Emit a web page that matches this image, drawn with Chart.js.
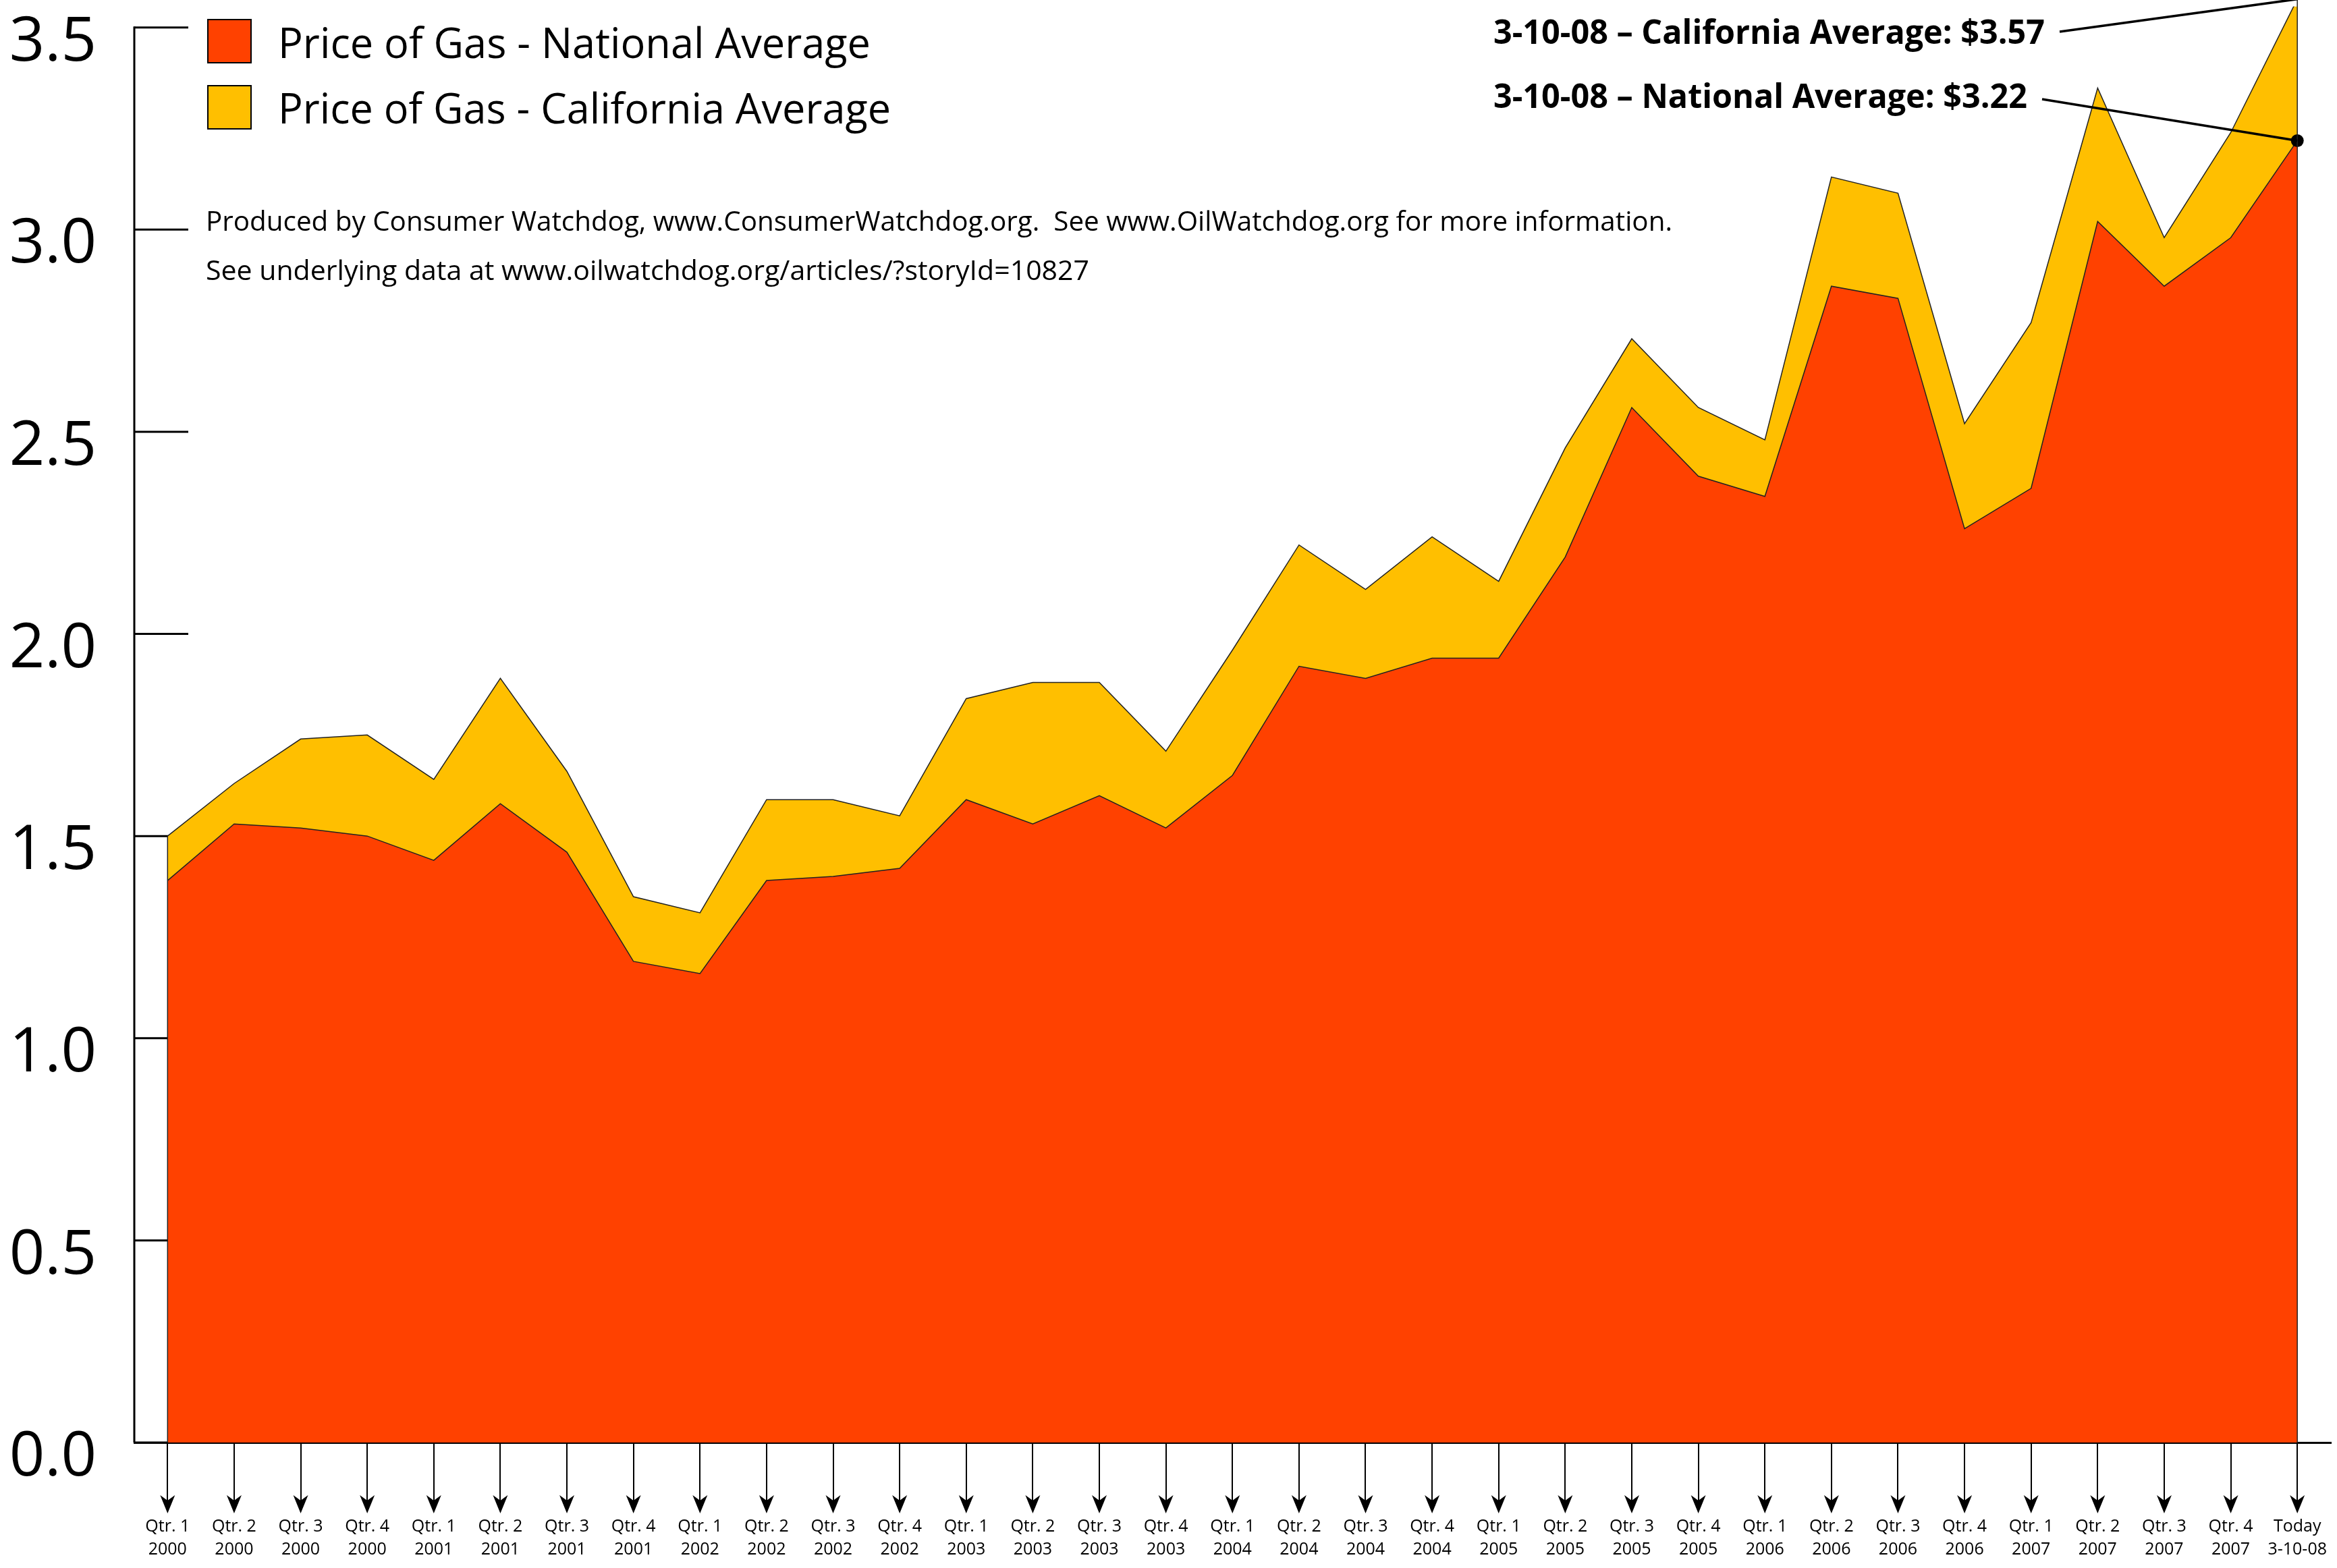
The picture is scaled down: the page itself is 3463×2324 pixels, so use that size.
<!DOCTYPE html>
<html>
<head>
<meta charset="utf-8">
<title>Price of Gas</title>
<script src="https://cdn.jsdelivr.net/npm/chart.js@4/dist/chart.umd.min.js"></script>
<style>
  html, body { margin: 0; padding: 0; background: #fff; }
  canvas { display: block; }
</style>
</head>
<body>
<canvas id="gasChart" width="3463" height="2324"></canvas>
<script>
// quarterly averages, $ per gallon
const quarterLabels = [
    "Qtr. 1", "Qtr. 2", "Qtr. 3", "Qtr. 4",
    "Qtr. 1", "Qtr. 2", "Qtr. 3", "Qtr. 4",
    "Qtr. 1", "Qtr. 2", "Qtr. 3", "Qtr. 4",
    "Qtr. 1", "Qtr. 2", "Qtr. 3", "Qtr. 4",
    "Qtr. 1", "Qtr. 2", "Qtr. 3", "Qtr. 4",
    "Qtr. 1", "Qtr. 2", "Qtr. 3", "Qtr. 4",
    "Qtr. 1", "Qtr. 2", "Qtr. 3", "Qtr. 4",
    "Qtr. 1", "Qtr. 2", "Qtr. 3", "Qtr. 4",
    "Today"
];
const yearLabels = [
    "2000", "2000", "2000", "2000",
    "2001", "2001", "2001", "2001",
    "2002", "2002", "2002", "2002",
    "2003", "2003", "2003", "2003",
    "2004", "2004", "2004", "2004",
    "2005", "2005", "2005", "2005",
    "2006", "2006", "2006", "2006",
    "2007", "2007", "2007", "2007",
    "3-10-08"
];
const nationalAvg = [
    1.39, 1.53, 1.52, 1.50, 1.44, 1.58, 1.46, 1.19,
    1.16, 1.39, 1.40, 1.42, 1.59, 1.53, 1.60, 1.52,
    1.65, 1.92, 1.89, 1.94, 1.94, 2.19, 2.56, 2.39,
    2.34, 2.86, 2.83, 2.26, 2.36, 3.02, 2.86, 2.98,
    3.22
];
const californiaAvg = [
    1.50, 1.63, 1.74, 1.75, 1.64, 1.89, 1.66, 1.35,
    1.31, 1.59, 1.59, 1.55, 1.84, 1.88, 1.88, 1.71,
    1.96, 2.22, 2.11, 2.24, 2.13, 2.46, 2.73, 2.56,
    2.48, 3.13, 3.09, 2.52, 2.77, 3.35, 2.98, 3.24,
    3.57
];
const priceTicks = [0, 0.5, 1.0, 1.5, 2.0, 2.5, 3.0, 3.5];

const seriesNames = ["Price of Gas - National Average", "Price of Gas - California Average"];
const creditLines = [
    "Produced by Consumer Watchdog, www.ConsumerWatchdog.org.  See www.OilWatchdog.org for more information.",
    "See underlying data at www.oilwatchdog.org/articles/?storyId=10827"
];
const calloutCA = "3-10-08 \u2013 California Average: $3.57";
const calloutUS = "3-10-08 \u2013 National Average: $3.22";

const RED = "#ff4100";
const GOLD = "#ffbf00";
const FONT = "'Open Sans', 'Noto Sans', sans-serif";

const labels = quarterLabels.map((q, i) => [q, yearLabels[i]]);
const last = nationalAvg.length - 1;

// the original uses a condensed face, so squeeze text to the measured width
function fitText(ctx, text, x, y, width, font) {
    ctx.font = font;
    const w = ctx.measureText(text).width;
    ctx.save();
    ctx.translate(x, y);
    ctx.scale(width / w, 1);
    ctx.textAlign = "left";
    ctx.textBaseline = "alphabetic";
    ctx.fillText(text, 0, 0);
    ctx.restore();
}

const decor = {
    id: "decor",
    beforeDatasetsDraw(chart) {
        const { ctx, chartArea, scales: { y } } = chart;
        ctx.save();
        ctx.strokeStyle = "#000";
        ctx.lineWidth = 3;
        // axis line stops at the top tick
        ctx.beginPath();
        ctx.moveTo(chartArea.left, y.getPixelForValue(priceTicks[priceTicks.length - 1]) - 1.5);
        ctx.lineTo(chartArea.left, chartArea.bottom);
        ctx.stroke();
        // tick marks point into the plot
        priceTicks.forEach(v => {
            const py = y.getPixelForValue(v);
            ctx.beginPath();
            ctx.moveTo(chartArea.left, py);
            ctx.lineTo(chartArea.left + 80, py);
            ctx.stroke();
        });
        ctx.restore();
    },
    afterDatasetsDraw(chart) {
        const { ctx, chartArea, scales: { x, y } } = chart;
        ctx.save();
        ctx.strokeStyle = "#222";
        ctx.lineWidth = 1.5;
        const x0 = x.getPixelForValue(0);
        const xN = x.getPixelForValue(last);
        ctx.beginPath();
        ctx.moveTo(x0, y.getPixelForValue(californiaAvg[0]));
        ctx.lineTo(x0, chartArea.bottom);
        ctx.moveTo(xN, y.getPixelForValue(californiaAvg[last]));
        ctx.lineTo(xN, chartArea.bottom);
        ctx.stroke();
        ctx.restore();
    },
    afterDraw(chart) {
        const { ctx, scales: { x, y } } = chart;
        ctx.save();

        // arrow heads under each quarter
        ctx.fillStyle = "#000";
        const tip = x.top + 105;
        x.ticks.forEach((t, i) => {
            const px = x.getPixelForTick(i);
            ctx.beginPath();
            ctx.moveTo(px, tip);
            ctx.lineTo(px - 11, tip - 27);
            ctx.lineTo(px, tip - 19);
            ctx.lineTo(px + 11, tip - 27);
            ctx.closePath();
            ctx.fill();
        });

        // legend
        const colors = [RED, GOLD];
        const boxTops = [29, 127];
        const textBase = [86, 183];
        const textWidth = [878, 908];
        seriesNames.forEach((name, i) => {
            ctx.fillStyle = colors[i];
            ctx.fillRect(308, boxTops[i], 64, 64);
            ctx.strokeStyle = "#000";
            ctx.lineWidth = 2;
            ctx.strokeRect(308, boxTops[i], 64, 64);
            ctx.fillStyle = "#000";
            fitText(ctx, name, 412, textBase[i], textWidth[i], `62px ${FONT}`);
        });

        // credits
        fitText(ctx, creditLines[0], 305, 342, 2173, `40px ${FONT}`);
        fitText(ctx, creditLines[1], 305, 415, 1309, `40px ${FONT}`);

        // callouts
        fitText(ctx, calloutCA, 2213, 65, 817, `bold 50px ${FONT}`);
        fitText(ctx, calloutUS, 2213, 160, 791, `bold 50px ${FONT}`);

        ctx.strokeStyle = "#000";
        ctx.lineWidth = 3.5;
        const xN = x.getPixelForValue(last);
        ctx.beginPath();
        ctx.moveTo(3052, 47);
        ctx.lineTo(xN, y.getPixelForValue(californiaAvg[last]));
        ctx.moveTo(3026, 147);
        ctx.lineTo(xN, y.getPixelForValue(nationalAvg[last]));
        ctx.stroke();

        ctx.restore();
    }
};

new Chart(document.getElementById("gasChart"), {
    type: "line",
    data: {
        labels: labels,
        datasets: [
            {
                label: seriesNames[0],
                data: nationalAvg,
                fill: "origin",
                backgroundColor: RED,
                borderColor: "#222",
                borderWidth: 1.5,
                tension: 0,
                pointRadius: nationalAvg.map((v, i) => (i === last ? 9.5 : 0)),
                pointBackgroundColor: "#000",
                pointBorderWidth: 0
            },
            {
                label: seriesNames[1],
                data: californiaAvg,
                fill: "origin",
                backgroundColor: GOLD,
                borderColor: "#222",
                borderWidth: 1.5,
                tension: 0,
                pointRadius: 0
            }
        ]
    },
    options: {
        responsive: false,
        devicePixelRatio: 1,
        animation: false,
        layout: { padding: { left: 0, top: 0, right: 6, bottom: 0 } },
        plugins: {
            legend: { display: false },
            tooltip: { enabled: false }
        },
        scales: {
            x: {
                offset: true,
                afterFit: s => { s.height = 186; s.paddingLeft = 0; s.paddingRight = 0; },
                grid: { drawOnChartArea: false, drawTicks: true, tickLength: 100, color: "#000", lineWidth: 2 },
                border: { display: true, color: "#000", width: 3 },
                ticks: {
                    autoSkip: false,
                    maxRotation: 0,
                    minRotation: 0,
                    padding: 8,
                    color: "#000",
                    font: { family: FONT, size: 25, lineHeight: 1.35 }
                }
            },
            y: {
                min: 0,
                max: 3.552,
                afterBuildTicks: s => { s.ticks = priceTicks.map(v => ({ value: v })); },
                afterFit: s => { s.width = 199; s.paddingTop = 0; s.paddingBottom = 0; },
                grid: { display: false, drawTicks: false },
                border: { display: false },
                ticks: {
                    padding: 56,
                    labelOffset: 23,
                    color: "#000",
                    font: { family: FONT, size: 92 },
                    callback: v => v.toFixed(1)
                }
            }
        }
    },
    plugins: [decor]
});
</script>
</body>
</html>
